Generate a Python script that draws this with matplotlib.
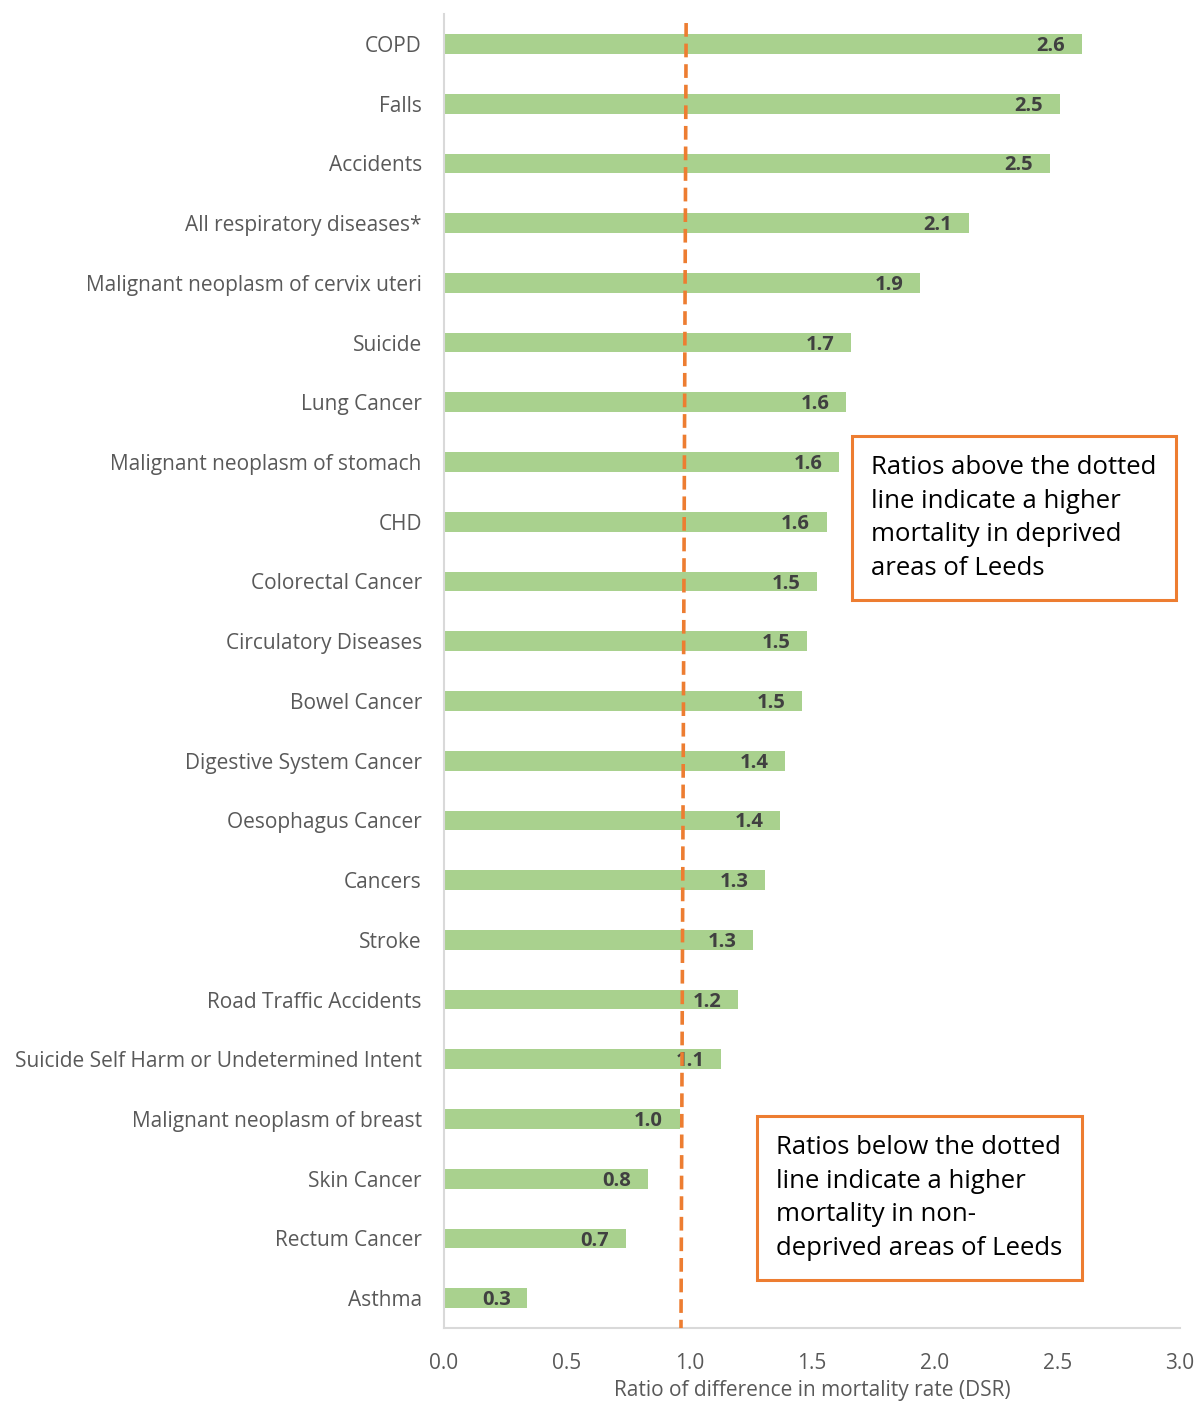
## Ratio of mortality rates between deprived and non-deprived areas of Leeds, horizontal bars

import numpy as np
import matplotlib.pyplot as plt

plt.rcParams['font.family'] = ['Open Sans', 'DejaVu Sans']

causes = ["COPD", "Falls", "Accidents", "All respiratory diseases*",
          "Malignant neoplasm of cervix uteri", "Suicide", "Lung Cancer",
          "Malignant neoplasm of stomach", "CHD", "Colorectal Cancer",
          "Circulatory Diseases", "Bowel Cancer", "Digestive System Cancer",
          "Oesophagus Cancer", "Cancers", "Stroke", "Road Traffic Accidents",
          "Suicide Self Harm or Undetermined Intent",
          "Malignant neoplasm of breast", "Skin Cancer", "Rectum Cancer", "Asthma"]
ratios = [2.60, 2.51, 2.47, 2.14, 1.94, 1.66, 1.64, 1.61, 1.56, 1.52, 1.48,
          1.46, 1.39, 1.37, 1.31, 1.26, 1.20, 1.13, 0.96, 0.83, 0.74, 0.34]
# the reference line is drawn slightly off 1.0 (and slanted) in the original
ref_line_x = [0.987, 0.966]
xticks = [0.0, 0.5, 1.0, 1.5, 2.0, 2.5, 3.0]

GREEN = "#A9D18E"
ORANGE = "#ED7D31"
GREY = "#595959"

fig = plt.figure(figsize=(11.98, 14.07), dpi=100)
ax = fig.add_axes([0.3706, 0.0561, 0.6144, 0.9339])

y = np.arange(len(causes))
ax.barh(y, ratios, height=0.33, color=GREEN)

for yi, v in zip(y, ratios):
	ax.annotate(f"{v:.1f}", (v, yi), xytext=(-12, -1.5), textcoords="offset points",
	            ha="right", va="center", fontsize=14.5, fontweight="bold", color="#404040")

ax.plot(ref_line_x, [-0.35, len(causes) - 0.5], color=ORANGE, lw=2.6,
        dashes=(3.8, 1.9), zorder=3, clip_on=False)

ax.set_ylim(len(causes) - 0.5, -0.5)
ax.set_xlim(0, 3.0)
ax.set_yticks(y)
ax.set_yticklabels(causes, fontsize=15, color=GREY)
ax.set_xticks(xticks)
ax.set_xticklabels([f"{t:.1f}" for t in xticks], fontsize=15, color=GREY)
ax.tick_params(length=0)
ax.tick_params(axis="y", pad=16)
ax.tick_params(axis="x", pad=18)
ax.set_xlabel("Ratio of difference in mortality rate (DSR)", fontsize=15, color=GREY, labelpad=4)

for s in ["top", "right"]:
	ax.spines[s].set_visible(False)
ax.spines["left"].set_color("#D9D9D9")
ax.spines["bottom"].set_color("#D9D9D9")
ax.spines["left"].set_linewidth(1.5)
ax.spines["bottom"].set_linewidth(1.5)

box = dict(boxstyle="square,pad=0.75", facecolor="white", edgecolor=ORANGE, linewidth=2.2)
fig.text(871 / 1198, 1 - 518 / 1407,
         "Ratios above the dotted\nline indicate a higher\nmortality in deprived\nareas of Leeds",
         fontsize=18.5, va="center", ha="left", color="black", linespacing=1.45, bbox=box)
fig.text(776 / 1198, 1 - 1198 / 1407,
         "Ratios below the dotted\nline indicate a higher\nmortality in non-\ndeprived areas of Leeds",
         fontsize=18.5, va="center", ha="left", color="black", linespacing=1.45, bbox=box)

plt.savefig("out.png", dpi=100)
